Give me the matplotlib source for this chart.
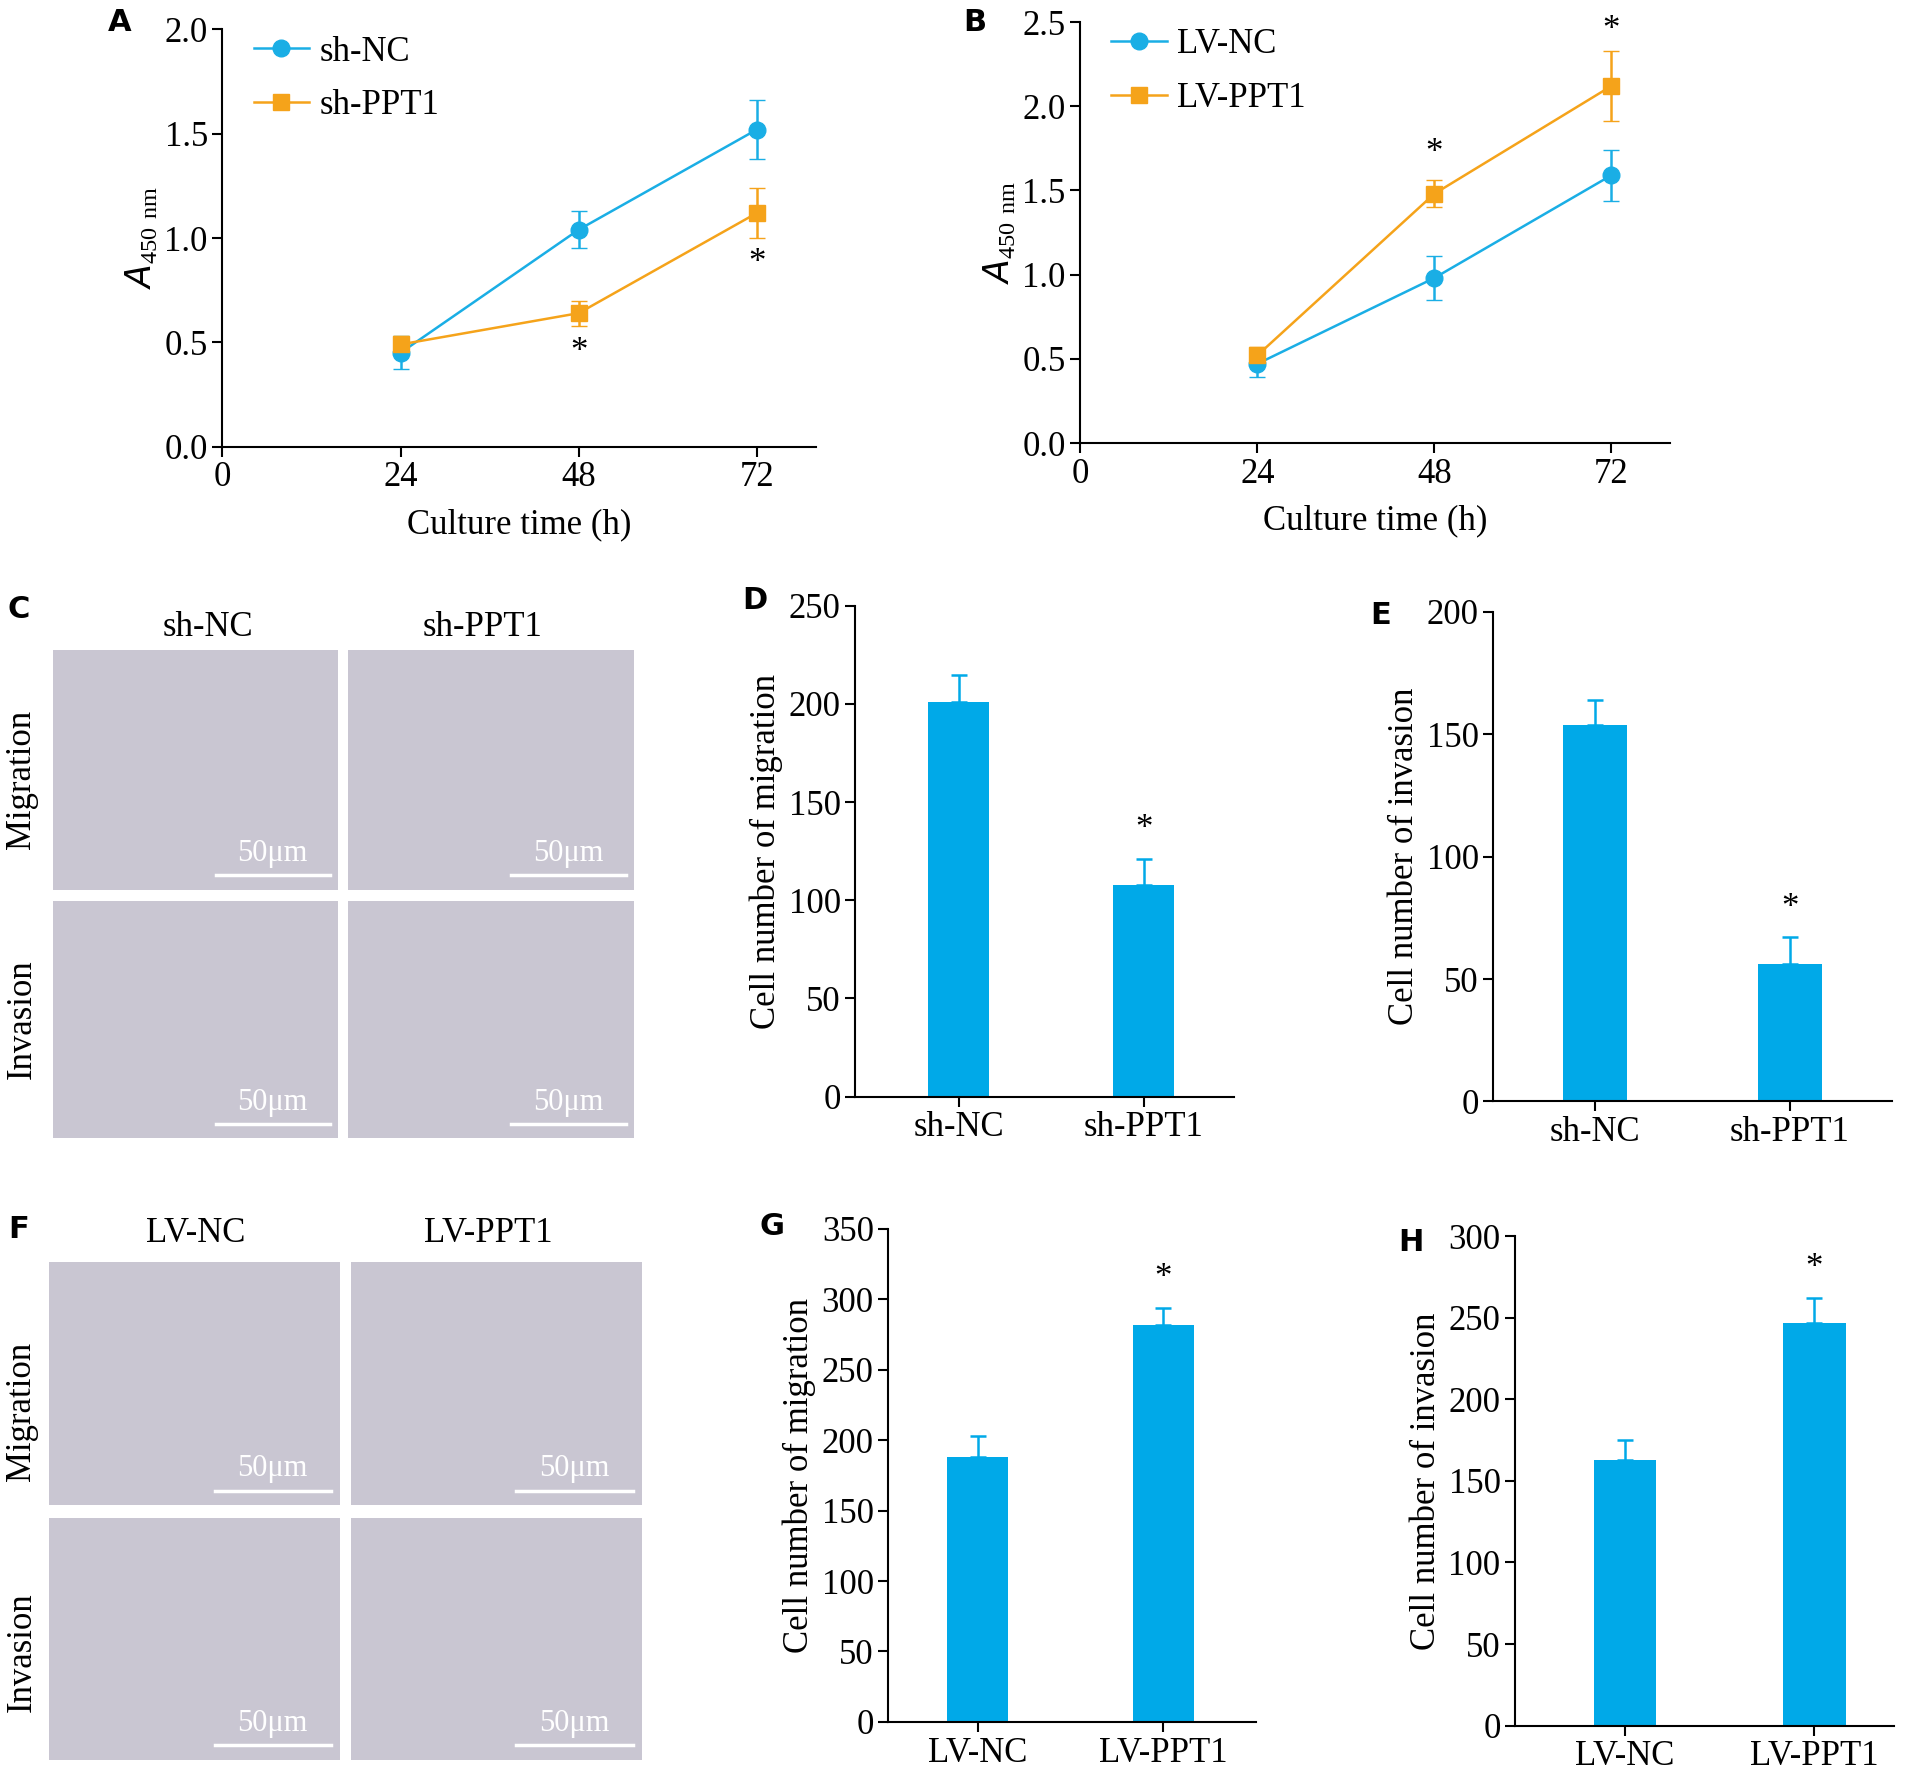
import matplotlib.pyplot as plt
import numpy as np

W, H = 1568, 1452
plt.rcParams['font.family'] = ['Liberation Serif', 'DejaVu Serif']

times = [24, 48, 72]
a_nc = [0.45, 1.04, 1.52]; a_nc_err = [0.08, 0.09, 0.14]
a_ppt = [0.49, 0.64, 1.12]; a_ppt_err = [0.04, 0.06, 0.12]
b_nc = [0.47, 0.98, 1.59]; b_nc_err = [0.08, 0.13, 0.15]
b_ppt = [0.52, 1.48, 2.12]; b_ppt_err = [0.05, 0.08, 0.21]

sh_groups = ['sh-NC', 'sh-PPT1']
lv_groups = ['LV-NC', 'LV-PPT1']
d_vals = [201, 108]; d_err = [14, 13]
e_vals = [154, 56]; e_err = [10, 11]
g_vals = [188, 282]; g_err = [15, 12]
h_vals = [163, 247]; h_err = [12, 15]

CYAN = '#1aaee5'
ORANGE = '#f5a31a'
BAR = '#00a9e8'
FS = 25

fig = plt.figure(figsize=(19.16, 17.77), dpi=100)

def ax_at(x0, y0, x1, y1):
    return fig.add_axes([x0 / W, 1 - y1 / H, (x1 - x0) / W, (y1 - y0) / H])

def style(ax):
    for s in ['top', 'right']:
        ax.spines[s].set_visible(False)
    for s in ['left', 'bottom']:
        ax.spines[s].set_linewidth(1.5)
    ax.tick_params(labelsize=FS, width=1.5, length=7)

def letter(x, y, t):
    fig.text(x / W, 1 - y / H, t, fontsize=22, fontweight='bold', family='DejaVu Sans', va='center', ha='center')

def line_panel(ax, nc, nce, pp, ppe, lab, ymax, stars):
    ax.errorbar(times, nc, yerr=nce, color=CYAN, lw=1.8, capsize=6, elinewidth=1.8, fmt='none')
    ax.errorbar(times, pp, yerr=ppe, color=ORANGE, lw=1.8, capsize=6, elinewidth=1.8, fmt='none')
    ax.plot(times, nc, color=CYAN, marker='o', ms=12, lw=1.8, label=lab[0])
    ax.plot(times, pp, color=ORANGE, marker='s', ms=12, lw=1.8, label=lab[1])
    ax.set_xlim(0, 80)
    ax.set_ylim(0, ymax)
    ax.set_xticks([0, 24, 48, 72])
    ax.set_yticks(np.arange(0, ymax + 0.01, 0.5))
    ax.yaxis.set_major_formatter(plt.FormatStrFormatter('%.1f'))
    ax.set_xlabel('Culture time (h)', fontsize=FS, labelpad=10)
    ax.set_ylabel(r'$A_{\mathregular{450\ nm}}$', fontsize=FS)
    style(ax)
    ax.legend(loc='upper left', frameon=False, fontsize=FS, bbox_to_anchor=(0.0, 1.06), handlelength=1.6,
              handletextpad=0.3, labelspacing=0.6)
    for x, y in stars:
        ax.text(x, y, '*', fontsize=FS, ha='center', va='center')

axA = ax_at(182, 24, 668, 365)
line_panel(axA, a_nc, a_nc_err, a_ppt, a_ppt_err, sh_groups, 2.0, [(48, 0.45), (72, 0.88)])
axB = ax_at(884, 18, 1367, 362)
line_panel(axB, b_nc, b_nc_err, b_ppt, b_ppt_err, lv_groups, 2.5, [(48, 1.72), (72, 2.45)])

def bar_panel(box, vals, err, groups, ymax, step, ylabel, xl):
    ax = ax_at(*box)
    ax.bar([0, 1], vals, width=0.33, color=BAR, yerr=[[0, 0], err], capsize=6,
           error_kw=dict(ecolor=BAR, elinewidth=1.8, capthick=1.8))
    ax.set_xlim(*xl)
    ax.set_ylim(0, ymax)
    ax.set_yticks(np.arange(0, ymax + 1, step))
    ax.set_xticks([0, 1])
    ax.set_xticklabels(groups)
    ax.set_ylabel(ylabel, fontsize=FS)
    style(ax)
    ax.text(1, vals[1] + err[1] + ymax * 0.06, '*', fontsize=FS, ha='center', va='center')

bar_panel((700, 495, 1010, 896), d_vals, d_err, sh_groups, 250, 50, 'Cell number of migration', (-0.56, 1.49))
bar_panel((1222, 500, 1548, 900), e_vals, e_err, sh_groups, 200, 50, 'Cell number of invasion', (-0.52, 1.52))
bar_panel((727, 1004, 1028, 1407), g_vals, g_err, lv_groups, 350, 50, 'Cell number of migration', (-0.48, 1.5))
bar_panel((1240, 1010, 1550, 1410), h_vals, h_err, lv_groups, 300, 50, 'Cell number of invasion', (-0.58, 1.42))

def micro(box):
    ax = ax_at(*box)
    ax.set_facecolor('#c9c6d2')
    ax.set_xticks([]); ax.set_yticks([])
    for s in ax.spines.values():
        s.set_visible(False)
    ax.set_xlim(0, 1); ax.set_ylim(0, 1)
    ax.plot([0.57, 0.97], [0.06, 0.06], color='white', lw=2.5)
    ax.text(0.77, 0.15, '50μm', color='white', fontsize=22, ha='center', va='center')

for box in [(43, 531, 277, 727), (285, 531, 519, 727), (43, 736, 277, 930), (285, 736, 519, 930),
            (40, 1031, 278, 1230), (287, 1031, 525, 1230), (40, 1240, 278, 1438), (287, 1240, 525, 1438)]:
    micro(box)

def t(x, y, s, rot=0):
    fig.text(x / W, 1 - y / H, s, fontsize=FS, ha='center', va='center', rotation=rot)

t(170, 513, 'sh-NC'); t(395, 513, 'sh-PPT1')
t(160, 1008, 'LV-NC'); t(400, 1008, 'LV-PPT1')
t(18, 637, 'Migration', 90); t(18, 833, 'Invasion', 90)
t(18, 1153, 'Migration', 90); t(18, 1350, 'Invasion', 90)

letter(98, 18, 'A'); letter(798, 18, 'B'); letter(15, 498, 'C'); letter(618, 491, 'D')
letter(1130, 503, 'E'); letter(15, 1005, 'F'); letter(632, 1002, 'G'); letter(1155, 1015, 'H')

fig.savefig('out.png', dpi=100)
